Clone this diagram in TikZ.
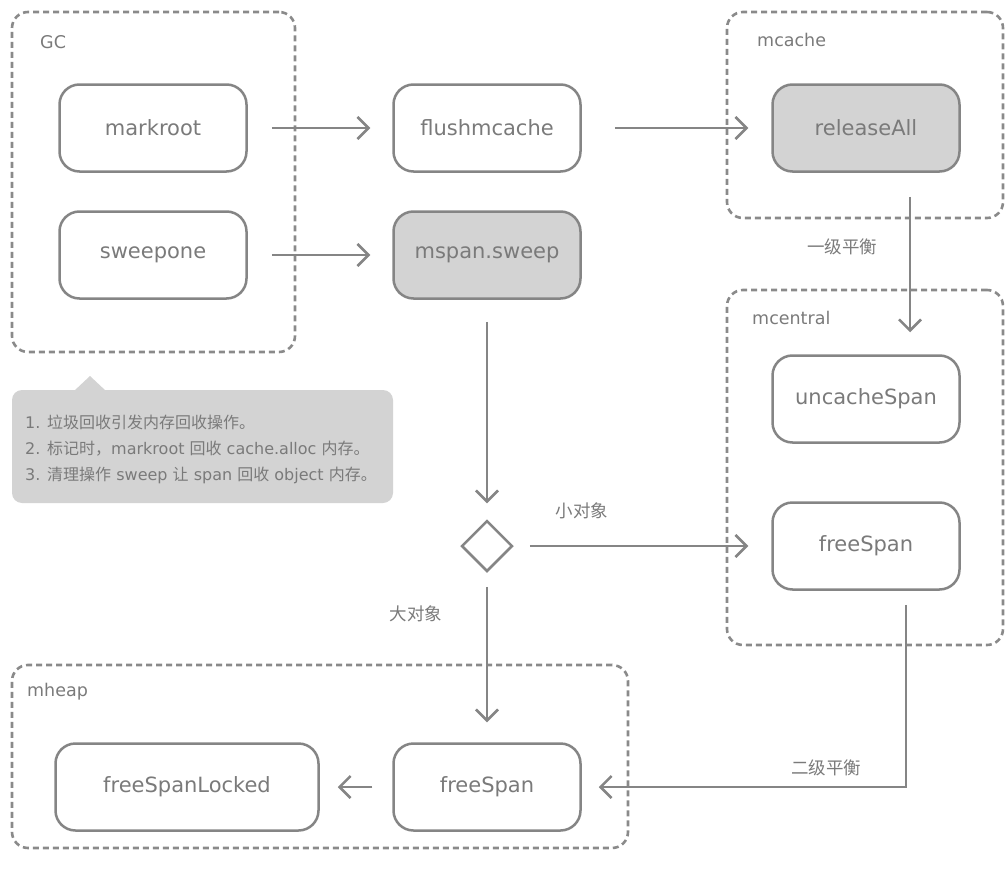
\documentclass[tikz,border=0pt]{standalone}
\usepackage{fontspec}
\setmainfont{DejaVu Sans}
\newfontfamily\cjk{Noto Sans CJK SC}
\usetikzlibrary{arrows.meta,shapes.geometric}
\definecolor{ln}{HTML}{858585}
\definecolor{tx}{HTML}{7A7A7A}
\definecolor{fl}{HTML}{D3D3D3}
\definecolor{dsh}{HTML}{8A8A8A}
\tikzset{
  box/.style={draw=ln, line width=2.5pt, rounded corners=20pt, minimum width=187pt, minimum height=87pt, text=tx, font=\fontsize{21}{25}\selectfont, inner sep=0pt},
  grey/.style={box, fill=fl},
  group/.style={draw=dsh, line width=2.6pt, dash pattern=on 6pt off 4pt, rounded corners=16pt, inner sep=0pt},
  glabel/.style={text=tx, font=\fontsize{17.5}{21}\selectfont, anchor=west, inner sep=0pt},
  elabel/.style={text=tx, font=\cjk\fontsize{17.5}{21}\selectfont, inner sep=0pt},
  arr/.style={draw=ln, line width=2.5pt, -{Straight Barb[length=11pt,width=22pt,line width=2.5pt]}},
}
\begin{document}
\begin{tikzpicture}[x=1pt,y=-1pt]
\useasboundingbox (0,0) rectangle (1005,878);
% groups
\node[group, minimum width=283pt, minimum height=340pt] (gc) at (153.5,182) {};
\node[group, minimum width=276pt, minimum height=206pt] (mcache) at (865,115) {};
\node[group, minimum width=276pt, minimum height=355pt] (mcentral) at (865,467.5) {};
\node[group, minimum width=616pt, minimum height=183pt] (mheap) at (320,756.5) {};
\node[glabel] (lgc) at (40,42) {GC};
\node[glabel] (lmcache) at (757,40) {mcache};
\node[glabel] (lmcentral) at (752,318) {mcentral};
\node[glabel] (lmheap) at (27,692) {mheap};
% boxes
\node[box] (markroot) at (153,128) {markroot};
\node[box] (sweepone) at (153,255) {sweepone};
\node[box] (flush) at (487,128) {flushmcache};
\node[grey] (msweep) at (487,255) {mspan.sweep};
\node[grey] (release) at (866,128) {releaseAll};
\node[box] (uncache) at (866,399) {uncacheSpan};
\node[box] (cfree) at (866,546) {freeSpan};
\node[box, minimum width=263pt] (locked) at (187,787) {freeSpanLocked};
\node[box] (hfree) at (487,787) {freeSpan};
\node[draw=ln, line width=2.5pt, diamond, minimum width=51pt, minimum height=51pt, inner sep=0pt] (dec) at (487,546) {};
% callout
\fill[fl, rounded corners=10pt] (12,390) rectangle (393,503);
\fill[fl] (74,391) -- (90,376) -- (106,391) -- cycle;
\node[anchor=west, align=left, text=tx, font=\fontsize{16}{26}\selectfont, inner sep=0pt] (note) at (25,449) {1. {\cjk 垃圾回收引发内存回收操作。}\\2. {\cjk 标记时，}markroot {\cjk 回收} cache.alloc {\cjk 内存。}\\3. {\cjk 清理操作} sweep {\cjk 让} span {\cjk 回收} object {\cjk 内存。}};
% arrows
\draw[arr, shorten <=24pt, shorten >=22pt] (markroot) -- (flush);
\draw[arr, shorten <=33pt, shorten >=23pt] (flush) -- (release);
\draw[arr, shorten <=24pt, shorten >=22pt] (sweepone) -- (msweep);
\draw[arr, shorten <=22pt, shorten >=16pt] (msweep.south) -- (dec.north);
\draw[arr, shorten <=16pt, shorten >=23pt] (dec.east) -- (cfree.west);
\draw[arr, shorten <=14pt, shorten >=20pt] (dec.south) -- (hfree.north);
\draw[arr, shorten <=24pt, shorten >=22pt] (release.south -| 910,0) -- (uncache.north -| 910,0);
\draw[arr, shorten <=14pt, shorten >=17pt] (cfree.south -| 906,0) |- (hfree.east);
\draw[arr, shorten <=20pt, shorten >=18pt] (hfree) -- (locked);
% edge labels
\node[elabel] (l1) at (582,511) {小对象};
\node[elabel] (l2) at (416,614) {大对象};
\node[elabel] (l3) at (842,247) {一级平衡};
\node[elabel] (l4) at (826,768) {二级平衡};
\end{tikzpicture}
\end{document}
